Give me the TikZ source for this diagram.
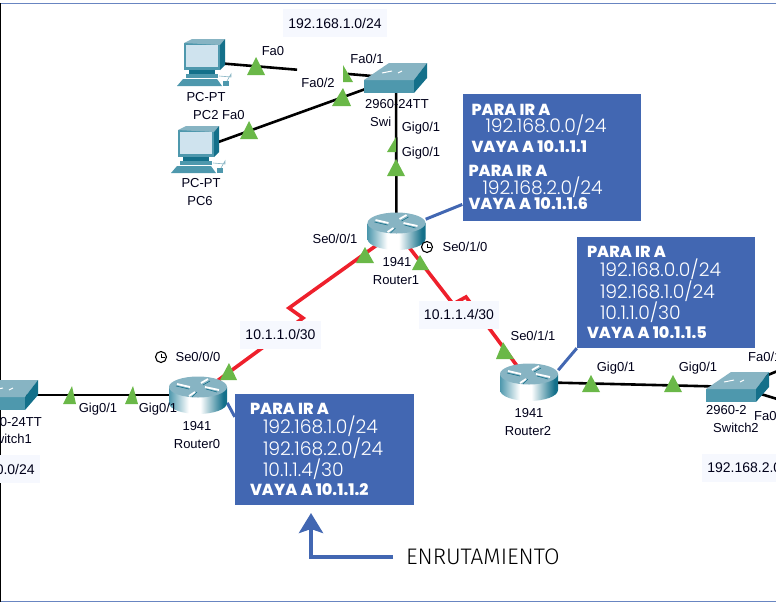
\documentclass[tikz,border=0pt]{standalone}
\usepackage{fontspec}
\setmainfont{Liberation Sans}
\newfontfamily\boxfont{Poppins Light}[BoldFont={Poppins ExtraBold}]
\newfontfamily\enrfont{Fira Sans Light}
\usepackage{tikz}
\usetikzlibrary{arrows.meta}
\definecolor{boxblue}{RGB}{66,103,178}
\definecolor{lnkgreen}{RGB}{106,184,72}
\definecolor{lnkred}{RGB}{238,32,44}
\definecolor{netbg}{RGB}{246,248,254}
\definecolor{devtop}{RGB}{135,180,195}
\definecolor{devfront}{RGB}{78,152,173}
\definecolor{devside}{RGB}{20,112,138}
\definecolor{devscreen}{RGB}{207,227,238}
\pgfdeclarehorizontalshading{routerbody}{100bp}{color(0bp)=(devfront); color(25bp)=(devfront); color(42bp)=(white); color(52bp)=(white); color(72bp)=(devside); color(100bp)=(devside)}
\newcommand{\boldline}[1]{{\bfseries\fontsize{16}{18.5}\selectfont\spaceskip=.2em #1}}

\begin{document}
\begin{tikzpicture}[
			x=1pt,y=-1pt
			,lbl/.style={inner sep=0pt, font=\fontsize{13}{15}\selectfont, text=black!90!blue}
			,net/.style={fill=netbg, inner sep=0pt, minimum height=28pt, font=\fontsize{14}{16}\selectfont, text=black!90!blue}
			,dev/.style={inner sep=0pt, minimum width=58pt, minimum height=38pt}
			,gig/.style={line width=2.6pt, black}
			,ser/.style={line width=3.6pt, lnkred}
			,lead/.style={line width=3pt, boxblue}
			,route/.style={fill=boxblue, inner sep=0pt, align=left, text=white, font=\boxfont\fontsize{18.8}{18.5}\selectfont}
			,router/.pic={
				\shade[shading=routerbody]
					(-29,-8) -- (-29,8) arc[start angle=180, end angle=0, x radius=29, y radius=11] -- (29,-8) -- cycle;
				\fill[devtop] (0,-8) ellipse [x radius=29, y radius=10.5];
				\draw[white, line width=1.8pt] (-21,-11) -- (-8,-8) (7,-8) -- (21,-5) (3,-12) -- (10,-16) (-3,-3) -- (-9,1);
				\draw[devside, line width=.6pt] (-22,-9) -- (-9,-6) (8,-6) -- (19,-3) (5,-10) -- (12,-14) (-1,-3) -- (-6,2);
			}
			,switchdev/.pic={
				\fill[devfront] (-32,2) rectangle (18,15);
				\fill[devtop] (-32,2) -- (-7,-15) -- (31,-15) -- (18,2) -- cycle;
				\fill[devside] (18,2) -- (31,-15) -- (31,0) -- (18,15) -- cycle;
				\draw[white, line width=1pt] (-14,-5) -- (-4,-7) (2,-5) -- (6,-7);
			}
			,pcdev/.pic={
				\fill[devfront] (-21,-19) rectangle (15,8);
				\fill[devtop] (-21,-19) -- (-13,-23) -- (20,-23) -- (15,-17) -- cycle;
				\fill[devside] (15,-17) -- (20,-23) -- (20,3) -- (15,8) -- cycle;
				\fill[devscreen] (-19,-17) rectangle (13,5);
				\fill[devside] (-16,8) rectangle (10,12);
				\fill[devfront] (-19,12) rectangle (13,16);
				\fill[devfront] (-28,24) -- (17,24) -- (12,17) -- (-22,17) -- cycle;
				\fill[devfront] (18,19) rectangle (24,24);
				\draw[devtop, line width=.6pt] (14,14) -- (26,15) -- (26,12) -- (22,19);
			}
			,clock/.pic={
				\draw[black, line width=1.1pt, fill=white] (0,0) circle [radius=5.5];
				\draw[black, line width=1pt] (0,-3.5) -- (0,0) -- (3.5,0);
			}
		]
			\clip (0,0) rectangle (776,603);
			\draw[boxblue!80, line width=1pt] (0,3) -- (776,3);
			\draw[boxblue!80, line width=1pt] (0,601.5) -- (776,601.5);
			\draw[black, line width=1.5pt] (0.5,3) -- (0.5,602);

			\node[dev] (pc2) at (205,62) {};
			\node[dev] (pc6) at (199,149) {};
			\node[dev] (sw0) at (396,78) {};
			\node[dev] (sw1) at (7,395) {};
			\node[dev] (sw2) at (738,387) {};
			\node[dev] (r0) at (198,395) {};
			\node[dev] (r1) at (396.5,231) {};
			\node[dev] (r2) at (529,382) {};
			\coordinate (zaa) at (289,308);
			\coordinate (zab) at (303,318);
			\coordinate (zba) at (453,304);
			\coordinate (zbb) at (466,297);
			\coordinate (outa) at (800,362);
			\coordinate (outb) at (800,406);

			\node[route, text width=178pt, minimum height=127pt] (boxa) at (551.5,157) {%
				\hspace*{9pt}\boldline{PARA IR A}\\[-1.5pt]
				\hspace*{23pt}192.168.0.0/24\\[1.5pt]
				\hspace*{9pt}\boldline{VAYA A 10.1.1.1}\\[5.5pt]
				\hspace*{6pt}\boldline{PARA IR A}\\[-.5pt]
				\hspace*{20pt}192.168.2.0/24\\[-3.5pt]
				\hspace*{6pt}\boldline{VAYA A 10.1.1.6}};
			\node[route, text width=178pt, minimum height=111pt] (boxb) at (666,292.5) {%
				\hspace*{10pt}\boldline{PARA IR A}\\
				\hspace*{23pt}192.168.0.0/24\\
				\hspace*{23pt}192.168.1.0/24\\
				\hspace*{23pt}10.1.1.0/30\\
				\hspace*{10pt}\boldline{VAYA A 10.1.1.5}};
			\node[route, text width=179pt, minimum height=111pt] (boxc) at (324.5,449.5) {%
				\hspace*{15pt}\boldline{PARA IR A}\\
				\hspace*{28pt}192.168.1.0/24\\
				\hspace*{28pt}192.168.2.0/24\\
				\hspace*{28pt}10.1.1.4/30\\
				\hspace*{15pt}\boldline{VAYA A 10.1.1.2}};

			\draw[gig, dash pattern=on 92.4pt off 51pt on 60pt] (pc2.center) -- (sw0.center);
			\draw[gig] (pc6.center) -- (sw0.center);
			\draw[gig] (sw0.center) -- (r1.center);
			\draw[gig] (sw1.center) -- (r0.center);
			\draw[gig] (r2.center) -- (sw2.center);
			\draw[gig] (sw2.center) -- (outa);
			\draw[gig] (sw2.center) -- (outb);
			\draw[ser] (r1.center) -- (zaa) -- (zab) -- (r0.center);
			\draw[ser] (r1.center) -- (zba) -- (zbb) -- (r2.center);
			\draw[lead] (r1.22) -- (boxa.208);
			\draw[lead] (r2.22) -- (boxb.south west);
			\draw[lead] (r0.-15) -- (boxc.160);

			\pic at (pc2) {pcdev};
			\pic at (pc6) {pcdev};
			\pic at (sw0) {switchdev};
			\pic at (sw1) {switchdev};
			\pic at (sw2) {switchdev};
			\pic at (r0) {router};
			\pic at (r1) {router};
			\pic at (r2) {router};
			\pic at (427,247) {clock};
			\pic at (161,357) {clock};

			\foreach \l/\r/\b/\tx/\ty in {
				247/265/75/256/57, 343/353/82/343/65, 332/351/106/343/88, 240/258/139/249/121,
				387/396/152/396/137, 387/405/176/396/159, 356/374/263/365/247, 412/429/270/420/255,
				63/76/404/72/386, 125/138/404/133/386, 220/237/380/229/363,
				496/514/359/503/342, 582/600/392/591/375, 664/682/392/673/375}
				\fill[lnkgreen] (\l,\b) -- (\tx,\ty) -- (\r,\b) -- cycle;

			\node[net, minimum width=104pt] (neta) at (335,23) {192.168.1.0/24};
			\node[net, minimum width=81pt] (netb) at (280.5,334.5) {10.1.1.0/30};
			\node[net, minimum width=80pt] (netc) at (459,314.5) {10.1.1.4/30};
			\node[net, minimum width=104pt] (netd) at (-12,469) {192.168.0.0/24};
			\node[net, minimum width=104pt] (nete) at (754,467.5) {192.168.2.0/24};

			\node[lbl] (pca) at (206,97) {PC-PT};
			\node[lbl, anchor=west] (pcb) at (193,115) {PC2};
			\node[lbl, anchor=west] (faa) at (222,115) {Fa0};
			\node[lbl] (pcc) at (201,183) {PC-PT};
			\node[lbl] (pcd) at (200,201) {PC6};
			\node[lbl] (fab) at (273,51) {Fa0};
			\node[lbl] (fac) at (367,59) {Fa0/1};
			\node[lbl] (fad) at (318,83) {Fa0/2};
			\node[lbl] (swa) at (397,104) {2960-24TT};
			\node[lbl, anchor=west] (swb) at (370,122) {Swi};
			\node[lbl] (gia) at (421,128) {Gig0/1};
			\node[lbl] (gib) at (421,153) {Gig0/1};
			\node[lbl] (sea) at (335,239) {Se0/0/1};
			\node[lbl] (seb) at (465,247) {Se0/1/0};
			\node[lbl] (rta) at (397,262) {1941};
			\node[lbl] (rtb) at (396,280) {Router1};
			\node[lbl] (sec) at (198,357) {Se0/0/0};
			\node[lbl] (gic) at (98,409) {Gig0/1};
			\node[lbl] (gid) at (158,409) {Gig0/1};
			\node[lbl] (rtc) at (197,426) {1941};
			\node[lbl] (rtd) at (197,444) {Router0};
			\node[lbl, anchor=east] (swc) at (42,422) {2960-24TT};
			\node[lbl, anchor=east] (swd) at (32,439) {Switch1};
			\node[lbl] (sed) at (533,336) {Se0/1/1};
			\node[lbl] (rte) at (529,413) {1941};
			\node[lbl] (rtf) at (528,431) {Router2};
			\node[lbl] (gie) at (616,368) {Gig0/1};
			\node[lbl] (gif) at (698,368) {Gig0/1};
			\node[lbl, anchor=west] (fae) at (748,357) {Fa0/1};
			\node[lbl, anchor=west] (faf) at (754,416) {Fa0};
			\node[lbl, anchor=west] (swe) at (706,410) {2960-2};
			\node[lbl, anchor=west] (swf) at (713,428) {Switch2};

			\node[inner sep=0pt, anchor=west, font=\enrfont\fontsize{22.5}{24}\selectfont] (enr) at (406,557) {ENRUTAMIENTO};
			\coordinate (tipc) at (311,513);
			\draw[line width=4pt, boxblue, -{Stealth[length=20pt, width=24pt, inset=4pt]}]
				([xshift=-13pt]enr.west) -| (tipc);
		\end{tikzpicture}
\end{document}
